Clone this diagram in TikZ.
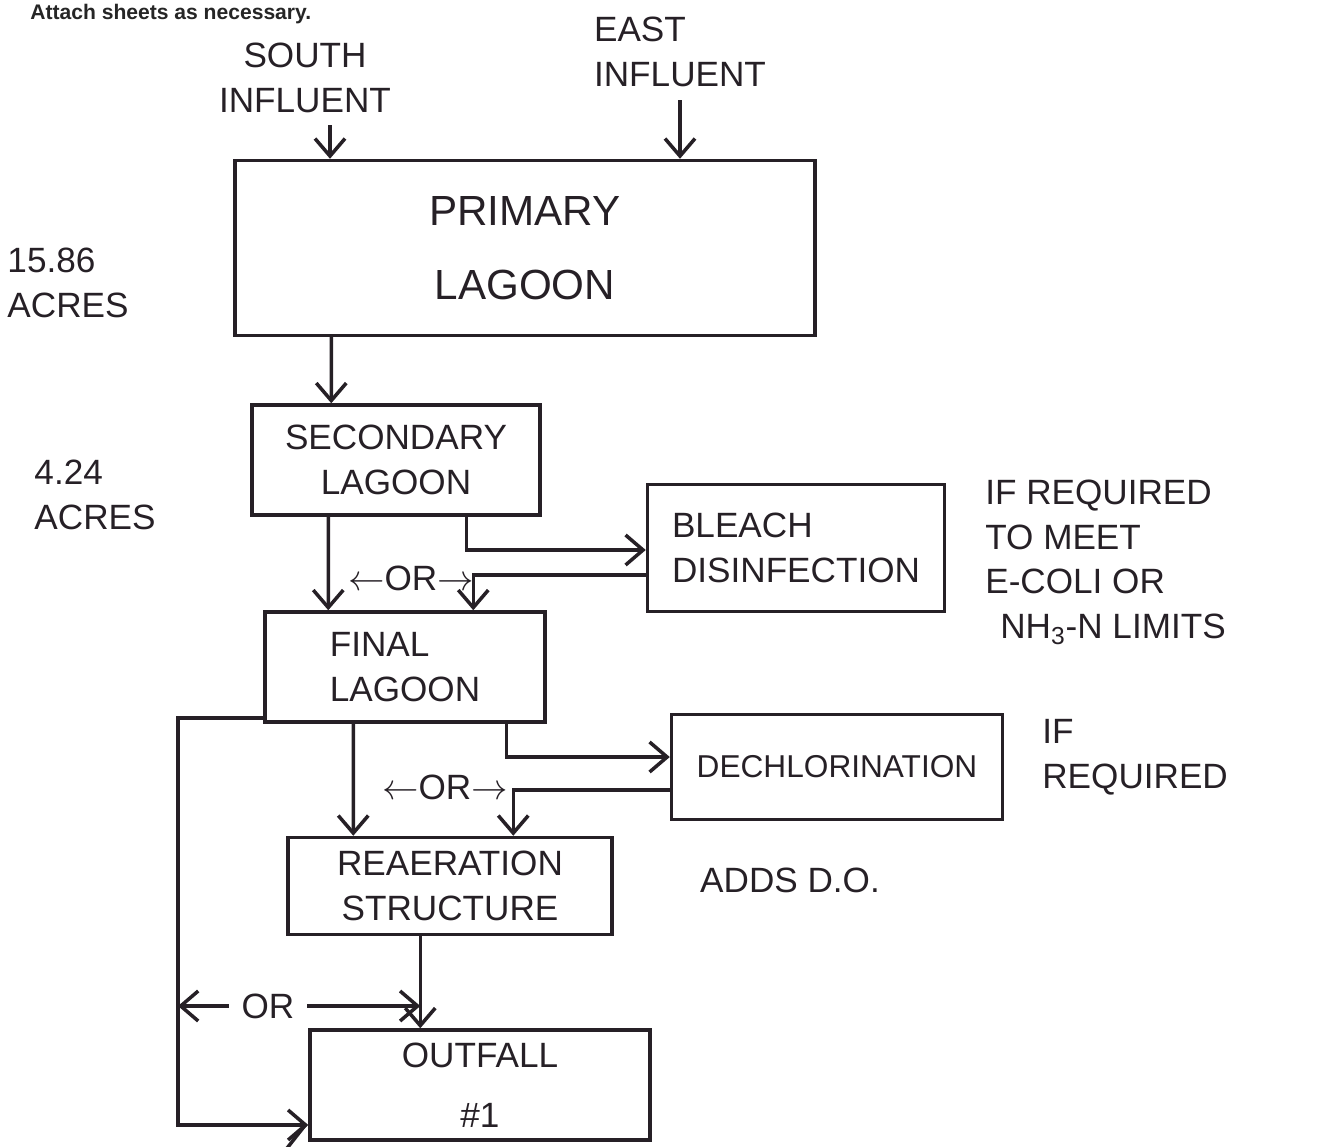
\documentclass[tikz,border=0pt]{standalone}
\usepackage{fontspec}
\setmainfont{Liberation Sans}
\usepackage{xcolor}
\usepackage{amsmath}
\usepackage{tikz}
\usetikzlibrary{calc}
\usetikzlibrary{arrows.meta}
\usetikzlibrary{positioning}
\definecolor{ink}{RGB}{38,32,38}
\tikzset{>={Straight Barb[length=3.5mm, width=6mm]}}
\newcommand{\handfont}{\fontsize{20}{25.5}\selectfont}
\tikzstyle{pond} = [rectangle, draw=ink, line width=2pt, align=center, text=ink, font=\handfont]
\tikzstyle{note} = [rectangle, draw=none, inner sep=0pt, align=left, text=ink, font=\handfont]
\tikzstyle{flow} = [->, draw=ink, line width=2pt]

\begin{document}
\begin{tikzpicture}[x=0.02cm, y=-0.02cm]
\useasboundingbox (0,0) rectangle (1323,1147);
\clip (0,0) rectangle (1323,1147);
\node [anchor=base west, inner sep=0pt, text=black!85, font=\bfseries\fontsize{12}{14}\selectfont] (hdr) at (30,19) {Attach sheets as necessary.};
% influents
\node [note, align=center] (SI) at (305,78) {SOUTH\\INFLUENT};
\node [note] (EI) at (680,52) {EAST\\INFLUENT};
\coordinate (si) at (330,125);
\coordinate (ei) at (680,100);
% lagoons
\node [pond, minimum width=11.6cm, minimum height=3.5cm, font=\fontsize{24}{28}\selectfont] (P) at (525,248) {PRIMARY\\[0.5cm]LAGOON};
\node [note] (A1) at (68,283) {15.86\\ACRES};
\node [pond, minimum width=5.76cm, minimum height=2.2cm] (S) at (396,460) {SECONDARY\\LAGOON};
\node [note] (A2) at (95,495) {4.24\\ACRES};
\node [pond, minimum width=5.94cm, minimum height=2.54cm, align=left] (B) at (796,548) {BLEACH\\DISINFECTION};
\node [note, anchor=west] (N1) at (985,562) {IF REQUIRED\\TO MEET\\E-COLI OR\\\hspace*{0.3cm}NH\textsubscript{3}-N LIMITS};
\node [note] (OR1) at (411,578) {$\leftarrow$OR$\rightarrow$};
\node [pond, minimum width=5.6cm, minimum height=2.2cm, align=left] (F) at (405,667) {FINAL\\LAGOON};
\node [pond, minimum width=6.62cm, minimum height=2.1cm, font=\fontsize{18}{25.5}\selectfont] (D) at (837,767) {DECHLORINATION};
\node [note, anchor=west] (N2) at (1042,757) {IF\\REQUIRED};
\node [note] (OR2) at (445,787) {$\leftarrow$OR$\rightarrow$};
\node [pond, minimum width=6.48cm, minimum height=1.94cm] (R) at (450,886) {REAERATION\\STRUCTURE};
\node [note] (N3) at (790,880) {ADDS D.O.};
\node [pond, minimum width=6.8cm, minimum height=2.2cm] (O) at (480,1085) {OUTFALL\\[0.3cm]\#1};
\node [note, inner sep=7pt] (OR3) at (268,1006) {OR};
\coordinate (ro) at ($(R.south west)+(134,0)$);
\coordinate (lp) at (178,1125);
\coordinate (cut) at (284,1152);
% flows
\draw [flow] (si) -- (si |- P.north);
\draw [flow] (ei) -- (ei |- P.north);
\draw [flow] ($(P.south west)+(98,0)$) -- ($(S.north west)+(81,0)$);
\draw [flow] ($(S.south east)+(-75,0)$) |- ($(B.west)+(0,2)$);
\draw [flow] ($(B.west)+(0,27)$) -| ($(F.north west)+(210,0)$);
\draw [flow] ($(S.south west)+(78,0)$) -- ($(F.north west)+(65,0)$);
\draw [flow] ($(F.south east)+(-40,0)$) |- ($(D.west)+(0,-10)$);
\draw [flow] ($(D.west)+(0,23)$) -| ($(R.north west)+(227,0)$);
\draw [flow] ($(F.south west)+(90,0)$) -- ($(R.north west)+(67,0)$);
\draw [flow] (ro) -- (ro |- O.north);
\draw [flow] ($(F.south west)+(0,-6)$) -| (lp) -- (lp -| O.west);
\draw [flow] (OR3.west) -- (OR3.west -| lp);
\draw [flow] (OR3.east) -- (OR3.east -| ro);
\draw [draw=ink, line width=2pt] (cut) -- ($(O.south west)+(-2,-18)$);
\end{tikzpicture}
\end{document}
